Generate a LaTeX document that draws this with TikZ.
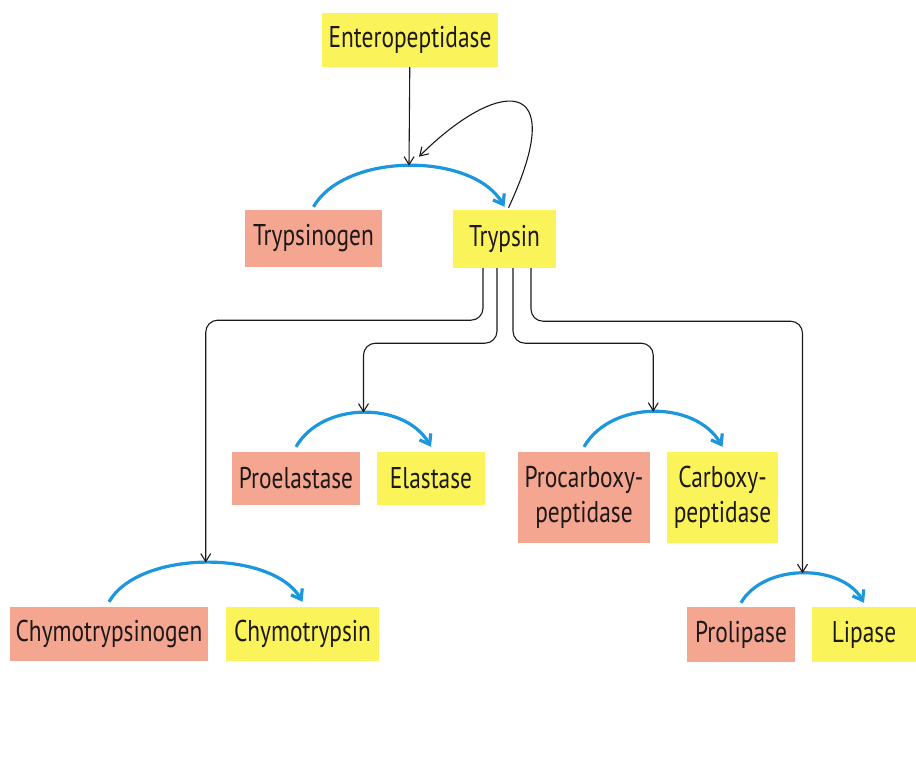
\documentclass[tikz,border=0pt]{standalone}
\usepackage{fontspec}
\setmainfont{PT Sans}[FakeStretch=0.78]
\usepackage{xcolor}
\usetikzlibrary{arrows.meta}
\definecolor{zymored}{RGB}{244,166,145}
\definecolor{enzyellow}{RGB}{250,244,90}
\definecolor{actblue}{RGB}{28,150,220}
\definecolor{inkdark}{RGB}{30,24,24}
\tikzset{
    cascade/.style={x=1pt, y=1pt, font=\fontsize{30}{35}\selectfont, text=inkdark},
    zymogen/.style={fill=zymored, inner sep=0pt, align=center},
    enzyme/.style={fill=enzyellow, inner sep=0pt, align=center},
    % blue arc: zymogen is cut into the active enzyme
    activate/.style={draw=actblue, line width=3.2pt, -{Straight Barb[length=9pt, width=13pt]}, out=60, in=120},
    trigger/.style={draw=inkdark, line width=1.1pt, -{Straight Barb[length=8pt, width=10pt]}, rounded corners=12pt},
}

\begin{document}
\begin{tikzpicture}[cascade]
    \useasboundingbox (0,0) rectangle (916,-757);

    \node[enzyme, minimum width=176pt, minimum height=54pt]  (ent)    at (410,-40)     {Enteropeptidase};
    \node[zymogen, minimum width=137pt, minimum height=57pt] (tgen)   at (313.5,-238.5) {Trypsinogen};
    \node[enzyme, minimum width=103pt, minimum height=58pt]  (tryp)   at (504.5,-239)  {Trypsin};
    \node[zymogen, minimum width=128pt, minimum height=53pt] (proel)  at (296,-478.5)  {Proelastase};
    \node[enzyme, minimum width=108pt, minimum height=53pt]  (elast)  at (431,-478.5)  {Elastase};
    \node[zymogen, minimum width=132pt, minimum height=91pt] (procp)  at (584,-497.5)  {Procarboxy-\\peptidase};
    \node[enzyme, minimum width=111pt, minimum height=91pt]  (carbp)  at (722.5,-497.5) {Carboxy-\\peptidase};
    \node[zymogen, minimum width=198pt, minimum height=54pt] (chgen)  at (109,-634)    {Chymotrypsinogen};
    \node[enzyme, minimum width=153pt, minimum height=54pt]  (chtr)   at (302.5,-634)  {Chymotrypsin};
    \node[zymogen, minimum width=108pt, minimum height=55pt] (prolip) at (741,-634.5)  {Prolipase};
    \node[enzyme, minimum width=104pt, minimum height=55pt]  (lip)    at (864,-634.5)  {Lipase};

    % activation arcs
    \draw[activate] ([yshift=3pt]tgen.north) to[looseness=0.85] node[coordinate, pos=0.5] (tpk) {} ([yshift=3pt]tryp.north);
    \draw[activate] ([yshift=5pt]proel.north) to[looseness=1] node[coordinate, pos=0.5] (elpk) {} ([yshift=5pt]elast.north);
    \draw[activate] ([yshift=5pt]procp.north) to[looseness=1] node[coordinate, pos=0.5] (cppk) {} ([yshift=5pt]carbp.north);
    \draw[activate] ([yshift=5pt]chgen.north) to[looseness=0.8] node[coordinate, pos=0.5] (chpk) {} ([yshift=5pt]chtr.north);
    \draw[activate] ([yshift=4pt]prolip.north) to[looseness=0.95] node[coordinate, pos=0.5] (lppk) {} ([yshift=4pt]lip.north);

    % enteropeptidase starts it, trypsin keeps it going
    \coordinate (fbend) at ([shift={(10pt,9pt)}]tpk);
    \draw[trigger] (ent) -- (tpk);
    \draw[trigger] ([xshift=4pt,yshift=2pt]tryp.north) .. controls +(65:150) and +(45:110) .. (fbend);

    % trypsin activates the others
    \draw[trigger] ([xshift=-21.5pt]tryp.south) -- ++(0,-52) -| (chpk);
    \draw[trigger] ([xshift=-7.5pt]tryp.south) -- ++(0,-75) -| (elpk);
    \draw[trigger] ([xshift=8.5pt]tryp.south) -- ++(0,-75) -| (cppk);
    \draw[trigger] ([xshift=26.5pt]tryp.south) -- ++(0,-53) -| (lppk);
\end{tikzpicture}
\end{document}
